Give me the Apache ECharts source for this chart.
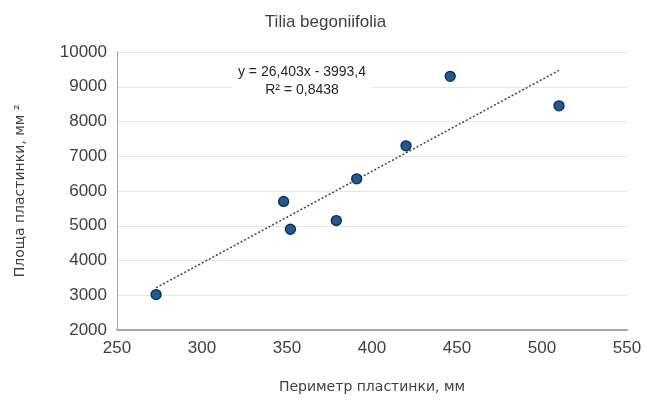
<!DOCTYPE html>
<html>
<head>
<meta charset="utf-8">
<script src="https://cdn.jsdelivr.net/npm/echarts@6/dist/echarts.min.js"></script>
<style>
  html, body { margin: 0; padding: 0; background: #fff; }
  #chart { width: 651px; height: 403px; }
</style>
</head>
<body>
<div id="chart"></div>
<script>
// периметр пластинки (мм) і площа пластинки (мм²)
const perimeter = [273, 348, 352, 379, 391, 420, 446, 510];
const area = [3020, 5700, 4900, 5150, 6350, 7300, 9300, 8450];
const xTicks = [250, 300, 350, 400, 450, 500, 550];
const yTicks = [2000, 3000, 4000, 5000, 6000, 7000, 8000, 9000, 10000];
// лінійний тренд, як підписано на графіку
const slope = 26.403;
const intercept = -3993.4;
const eqText = 'y = 26,403x - 3993,4';
const r2Text = 'R² = 0,8438';

const points = perimeter.map((p, i) => [p, area[i]]);
const xMin = Math.min(...perimeter), xMax = Math.max(...perimeter);
const trend = [[xMin, slope * xMin + intercept], [xMax, slope * xMax + intercept]];

const chart = echarts.init(document.getElementById('chart'));
const font = 'Liberation Sans, Arial, sans-serif';
const nameFont = 'DejaVu Sans, sans-serif';

chart.setOption({
  animation: false,
  title: {
    text: 'Tilia begoniifolia',
    left: 'center',
    top: 9,
    textStyle: { fontFamily: font, fontSize: 17, fontWeight: 'normal', color: '#404040' }
  },
  grid: { left: 117, right: 24, top: 52, bottom: 73 },
  xAxis: {
    type: 'value',
    min: xTicks[0],
    max: xTicks[xTicks.length - 1],
    interval: 50,
    name: 'Периметр пластинки, мм',
    nameLocation: 'middle',
    nameGap: 50,
    nameTextStyle: { fontFamily: nameFont, fontSize: 14, color: '#404040' },
    axisLine: { show: true, lineStyle: { color: '#a6a6a6', width: 2 } },
    axisTick: { show: false },
    splitLine: { show: false },
    axisLabel: { fontFamily: font, fontSize: 17, color: '#404040', margin: 10, formatter: v => String(v) }
  },
  yAxis: {
    type: 'value',
    min: yTicks[0],
    max: yTicks[yTicks.length - 1],
    interval: 1000,
    name: 'Площа пластинки, мм ²',
    nameLocation: 'middle',
    nameGap: 90,
    nameTextStyle: { fontFamily: nameFont, fontSize: 14, color: '#404040' },
    axisLine: { show: true, lineStyle: { color: '#a6a6a6', width: 1 } },
    axisTick: { show: false },
    splitLine: { show: true, lineStyle: { color: '#e6e6e6', width: 1 } },
    axisLabel: { fontFamily: font, fontSize: 17, color: '#404040', margin: 10, formatter: v => String(v) }
  },
  series: [
    {
      name: 'trend',
      type: 'line',
      data: trend,
      showSymbol: false,
      symbol: 'none',
      lineStyle: { color: '#404040', width: 1.5, type: [2, 2] },
      z: 2
    },
    {
      name: 'data',
      type: 'scatter',
      data: points,
      symbol: 'circle',
      symbolSize: 10,
      itemStyle: { color: '#1f5a92', borderColor: '#102b47', borderWidth: 1.3, opacity: 1 },
      z: 3
    }
  ],
  graphic: [
    {
      type: 'text',
      x: 302,
      y: 63,
      z: 1,
      style: {
        text: eqText + '\n' + r2Text,
        fontFamily: font,
        fontSize: 14,
        lineHeight: 18,
        align: 'center',
        fill: '#262626',
        backgroundColor: '#fff',
        padding: [0, 6, 0, 6]
      }
    }
  ]
});
</script>
</body>
</html>
